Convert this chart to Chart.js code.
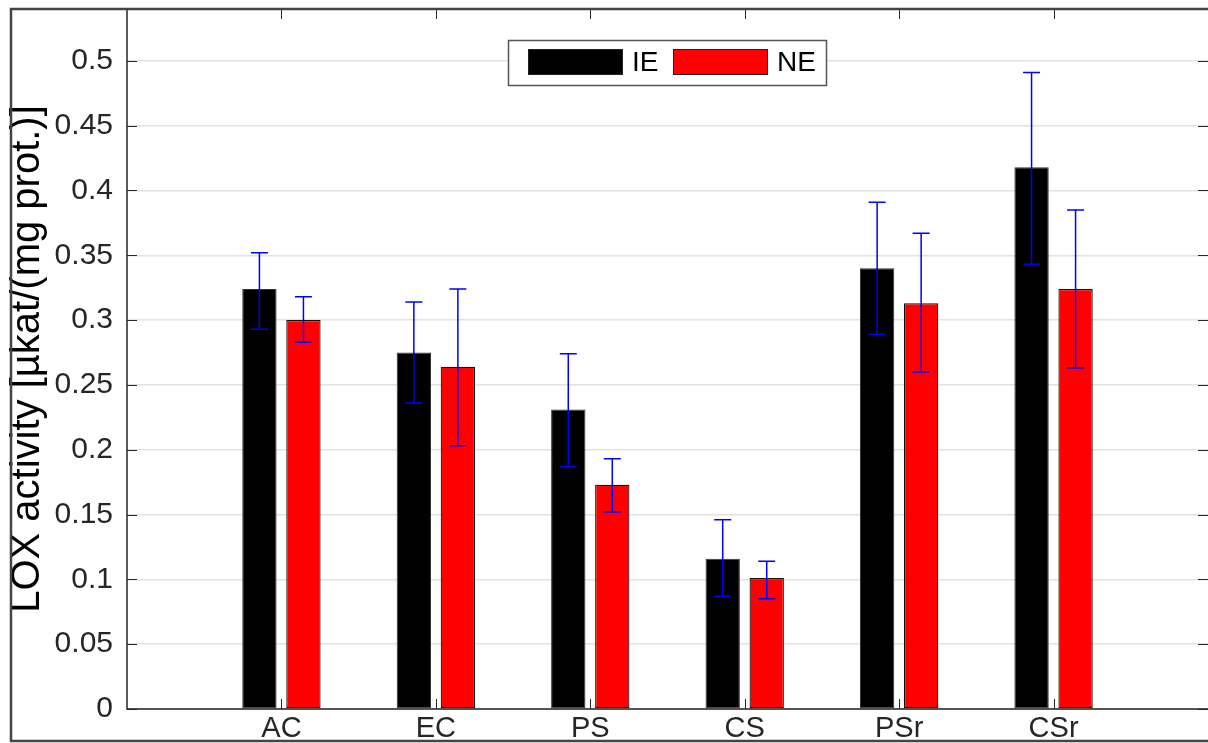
<!DOCTYPE html>
<html>
<head>
<meta charset="utf-8">
<script src="https://cdn.jsdelivr.net/npm/chart.js@4/dist/chart.umd.min.js"></script>
<style>
  body { margin: 0; background: #fff; overflow: hidden; }
  #wrap { width: 1208px; height: 743px; }
</style>
</head>
<body>
<div id="wrap"><canvas id="lox-chart" width="1208" height="743"></canvas></div>
<script>
// données
const categories = ["AC", "EC", "PS", "CS", "PSr", "CSr"];
const seriesNames = ["IE", "NE"];

const ieMean = [0.324, 0.275, 0.231, 0.116, 0.340, 0.418];
const ieLow  = [0.293, 0.236, 0.187, 0.087, 0.289, 0.343];
const ieHigh = [0.352, 0.314, 0.274, 0.146, 0.391, 0.491];

const neMean = [0.300, 0.264, 0.173, 0.101, 0.313, 0.324];
const neLow  = [0.283, 0.203, 0.152, 0.085, 0.260, 0.263];
const neHigh = [0.318, 0.324, 0.193, 0.114, 0.367, 0.385];

const yTicks = [0, 0.05, 0.1, 0.15, 0.2, 0.25, 0.3, 0.35, 0.4, 0.45, 0.5];

const FONT = "'Liberation Sans', Arial, sans-serif";
const AXIS_COLOR = "#262626";

function points(values) {
    return values.map((v, i) => ({ x: i + 1, y: v }));
}

// barres d'erreur bleues
const errorBars = {
    id: "errorBars",
    afterDatasetsDraw(chart) {
        const ctx = chart.ctx;
        const yScale = chart.scales.y;
        ctx.save();
        ctx.strokeStyle = "#0000ff";
        ctx.lineWidth = 1.5;
        chart.data.datasets.forEach((ds, d) => {
            const meta = chart.getDatasetMeta(d);
            meta.data.forEach((bar, i) => {
                const lo = yScale.getPixelForValue(ds.errLow[i]);
                const hi = yScale.getPixelForValue(ds.errHigh[i]);
                ctx.beginPath();
                ctx.moveTo(bar.x, lo);
                ctx.lineTo(bar.x, hi);
                ctx.moveTo(bar.x - 8.5, lo);
                ctx.lineTo(bar.x + 8.5, lo);
                ctx.moveTo(bar.x - 8.5, hi);
                ctx.lineTo(bar.x + 8.5, hi);
                ctx.stroke();
            });
        });
        ctx.restore();
    }
};

// cadre, ticks vers l'intérieur, légende
const frame = {
    id: "frame",
    afterDraw(chart) {
        const ctx = chart.ctx;
        const a = chart.chartArea;
        const xs = chart.scales.x;
        const ys = chart.scales.y;
        ctx.save();
        ctx.strokeStyle = AXIS_COLOR;
        ctx.lineWidth = 1;
        yTicks.forEach((v) => {
            const y = Math.round(ys.getPixelForValue(v)) + 0.5;
            ctx.beginPath();
            ctx.moveTo(a.left, y); ctx.lineTo(a.left + 10, y);
            ctx.moveTo(a.right, y); ctx.lineTo(a.right - 10, y);
            ctx.stroke();
        });
        categories.forEach((c, i) => {
            const x = Math.round(xs.getPixelForValue(i + 1)) + 0.5;
            ctx.beginPath();
            ctx.moveTo(x, a.top); ctx.lineTo(x, a.top + 10);
            ctx.moveTo(x, a.bottom); ctx.lineTo(x, a.bottom - 10);
            ctx.stroke();
        });
        ctx.lineWidth = 1.5;
        ctx.beginPath();
        ctx.moveTo(a.left, a.top); ctx.lineTo(a.left, a.bottom); ctx.lineTo(a.right, a.bottom);
        ctx.stroke();

        // cadre extérieur
        ctx.strokeStyle = "#444";
        ctx.lineWidth = 2.5;
        ctx.beginPath();
        ctx.moveTo(1208, 9); ctx.lineTo(11, 9); ctx.lineTo(11, 741); ctx.lineTo(1208, 741);
        ctx.stroke();

        // légende
        ctx.fillStyle = "#fff";
        ctx.fillRect(508, 40, 319, 46);
        ctx.strokeStyle = "#555";
        ctx.lineWidth = 1.5;
        ctx.strokeRect(508.5, 40.5, 318, 45);
        const legendX = [528, 673];
        chart.data.datasets.forEach((ds, d) => {
            ctx.fillStyle = ds.backgroundColor;
            ctx.fillRect(legendX[d], 49, 95, 26);
            ctx.strokeStyle = "#222";
            ctx.lineWidth = 1;
            ctx.strokeRect(legendX[d] + 0.5, 49.5, 94, 25);
            ctx.fillStyle = "#000";
            ctx.font = "28px " + FONT;
            ctx.textBaseline = "middle";
            ctx.fillText(ds.label, legendX[d] + 104, 63);
        });
        ctx.restore();
    }
};

const chartCanvas = document.getElementById("lox-chart").getContext("2d");
const chart = new Chart(chartCanvas, {
    type: "bar",
    data: {
        datasets: [
            {
                label: seriesNames[0],
                data: points(ieMean),
                errLow: ieLow,
                errHigh: ieHigh,
                backgroundColor: "#000000",
                borderColor: "#333333",
                borderWidth: 1,
                borderSkipped: false,
            },
            {
                label: seriesNames[1],
                data: points(neMean),
                errLow: neLow,
                errHigh: neHigh,
                backgroundColor: "#ff0000",
                borderColor: "#111111",
                borderWidth: 1.2,
                borderSkipped: false,
            },
        ],
    },
    options: {
        responsive: false,
        animation: false,
        devicePixelRatio: 1,
        categoryPercentage: 0.57,
        barPercentage: 0.78,
        layout: { padding: { top: 9, left: 0, right: 0, bottom: 0 } },
        plugins: {
            legend: { display: false },
            tooltip: { enabled: false },
        },
        scales: {
            x: {
                type: "linear",
                min: 0,
                max: 7,
                offset: false,
                grid: { display: false, drawTicks: false },
                border: { display: false },
                afterBuildTicks: (scale) => {
                    scale.ticks = categories.map((c, i) => ({ value: i + 1 }));
                },
                afterFit: (scale) => {
                    scale.height = 34;
                    scale.paddingLeft = 0;
                    scale.paddingRight = 0;
                },
                ticks: {
                    autoSkip: false,
                    maxRotation: 0,
                    padding: 3,
                    color: AXIS_COLOR,
                    font: { family: FONT, size: 29 },
                    callback: (v) => categories[v - 1] || "",
                },
            },
            y: {
                min: 0,
                max: 0.54,
                grid: { color: "#e2e2e2", lineWidth: 1.5, drawTicks: false },
                border: { display: false },
                afterBuildTicks: (scale) => {
                    scale.ticks = yTicks.map((v) => ({ value: v }));
                },
                afterFit: (scale) => {
                    scale.width = 127;
                    scale.paddingTop = 0;
                    scale.paddingBottom = 0;
                },
                ticks: {
                    padding: 14,
                    color: AXIS_COLOR,
                    font: { family: FONT, size: 30 },
                    callback: (v) => String(Number(v.toFixed(2))),
                },
                title: {
                    display: true,
                    text: "LOX activity [µkat/(mg prot.)]",
                    color: "#000",
                    font: { family: FONT, size: 40 },
                    padding: { top: 4, bottom: 0 },
                },
            },
        },
    },
    plugins: [errorBars, frame],
});
</script>
</body>
</html>
